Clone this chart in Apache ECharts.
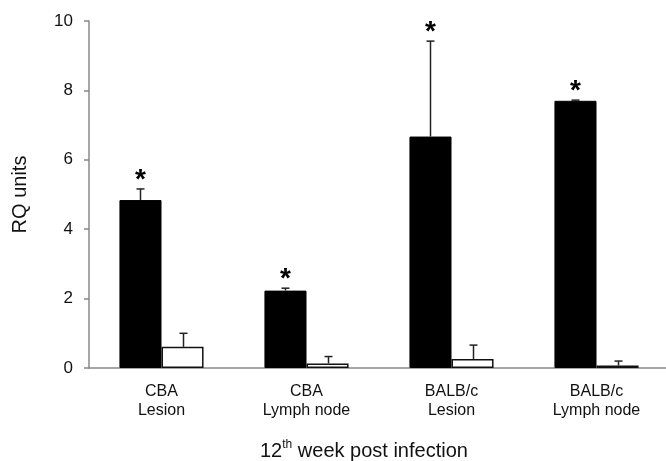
<!DOCTYPE html>
<html>
<head>
<meta charset="utf-8">
<script src="https://cdn.jsdelivr.net/npm/echarts@6/dist/echarts.min.js"></script>
<style>html,body{margin:0;padding:0;background:#fff}#c{width:666px;height:461px}</style>
</head>
<body>
<div id="c"></div>
<script>
var categories = ['CBA\nLesion', 'CBA\nLymph node', 'BALB/c\nLesion', 'BALB/c\nLymph node'];
var infected = [4.84, 2.23, 6.67, 7.70];
var infectedErr = [0.32, 0.07, 2.75, 0.02];
var control = [0.61, 0.13, 0.26, 0.07];
var controlErr = [0.39, 0.20, 0.40, 0.13];
var significant = [true, true, true, true];
var yTicks = [0, 2, 4, 6, 8, 10];

var FONT = 'Liberation Sans, Arial, sans-serif';
var BAR_FRAC = 0.29;

function errSeries(vals, errs, side, withStar) {
  var data = vals.map(function (v, i) { return [i, v, v + errs[i], withStar ? (significant[i] ? 1 : 0) : 0]; });
  return {
    type: 'custom',
    z: 5,
    data: data,
    encode: { x: 0, y: [1, 2] },
    renderItem: function (params, api) {
      var i = api.value(0);
      var band = api.size([1, 0])[0];
      var off = side * band * BAR_FRAC / 2;
      var base = api.coord([i, api.value(1)]);
      var top = api.coord([i, api.value(2)]);
      var x = Math.round(base[0] + off) + 0.5;
      var children = [
        { type: 'line', shape: { x1: x, y1: base[1], x2: x, y2: top[1] }, style: { stroke: '#222', lineWidth: 1.5 } },
        { type: 'line', shape: { x1: x - 4, y1: top[1], x2: x + 4, y2: top[1] }, style: { stroke: '#222', lineWidth: 1.5 } }
      ];
      if (api.value(3)) {
        children.push({ type: 'text', style: { text: '*', x: x, y: top[1] + 5, fill: '#000', font: 'bold 28px ' + FONT, textAlign: 'center', textVerticalAlign: 'bottom' } });
      }
      return { type: 'group', children: children };
    }
  };
}

var chart = echarts.init(document.getElementById('c'), null, { renderer: 'canvas' });
chart.setOption({
  animation: false,
  backgroundColor: '#fff',
  grid: { left: 89, right: -3, top: 21, bottom: 93, containLabel: false, outerBoundsMode: 'none' },
  xAxis: {
    type: 'category',
    data: categories,
    axisLine: { lineStyle: { color: '#888', width: 1.5 } },
    axisTick: { show: false },
    axisLabel: { color: '#111', fontSize: 16, fontFamily: FONT, lineHeight: 19, margin: 14, interval: 0 }
  },
  yAxis: {
    type: 'value',
    min: 0, max: 10, interval: 2,
    name: 'RQ units',
    nameLocation: 'middle',
    nameGap: 59,
    nameRotate: 90,
    nameTextStyle: { color: '#111', fontSize: 20, fontFamily: FONT },
    axisLine: { show: true, lineStyle: { color: '#888', width: 1.5 } },
    axisTick: { show: true, length: 5, lineStyle: { color: '#888', width: 1.5 } },
    splitLine: { show: false },
    axisLabel: { color: '#111', fontSize: 17, fontFamily: FONT, margin: 16,
      formatter: function (v) { return yTicks.indexOf(v) >= 0 ? String(v) : ''; } }
  },
  graphic: [{
    type: 'text',
    left: 260,
    top: 439,
    style: {
      text: '12{sup|th} week post infection',
      font: '20px ' + FONT,
      fill: '#111',
      rich: { sup: { fontSize: 12, fontFamily: FONT, fill: '#111', verticalAlign: 'top', lineHeight: 24 } }
    }
  }],
  series: [
    { type: 'bar', data: infected, barWidth: (BAR_FRAC * 100) + '%', barGap: '0%',
      itemStyle: { color: '#000', borderColor: '#000', borderWidth: 1 } },
    { type: 'bar', data: control, barWidth: (BAR_FRAC * 100) + '%', barGap: '0%',
      itemStyle: { color: '#fff', borderColor: '#111', borderWidth: 1.5 } },
    errSeries(infected, infectedErr, -1, true),
    errSeries(control, controlErr, 1, false)
  ]
});
</script>
</body>
</html>
